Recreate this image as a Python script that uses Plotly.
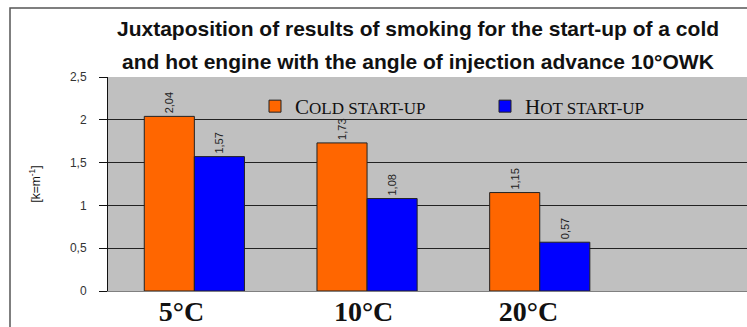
import plotly.graph_objects as go

categories = ["5°C", "10°C", "20°C"]
cold_values = [2.04, 1.73, 1.15]
hot_values = [1.57, 1.08, 0.57]
series_names = ["C<span style='font-size:17px'>OLD START-UP</span>",
                "H<span style='font-size:17px'>OT START-UP</span>"]
title_lines = ["Juxtaposition of results of smoking for the start-up of a cold",
               "and hot engine with the angle of injection advance 10°OWK"]
y_title = "[k=m<sup>-1</sup>]"

# styling: small horizontal nudges of category labels (in category units)
label_shift = [-0.075, -0.02, -0.065]

W, H = 747, 327
ML, MR, MT, MB = 108, 0, 77, 36
pw = W - ML - MR
ph = H - MT - MB

def px_x(p):
    return (p - ML) / pw

def px_y(p):
    return (H - MB - p) / ph

xpos = list(range(len(categories)))

fig = go.Figure()
fig.add_trace(go.Bar(
    x=xpos, y=cold_values, name=series_names[0],
    marker=dict(color="#FF6600", line=dict(color="#222222", width=1)),
    texttemplate="%{y:.2f}", textposition="outside", textangle=-90,
    textfont=dict(family="Liberation Sans, Arial", size=11, color="#222222"),
    cliponaxis=False, hoverinfo="skip",
))
fig.add_trace(go.Bar(
    x=xpos, y=hot_values, name=series_names[1],
    marker=dict(color="#0000FF", line=dict(color="#222222", width=1)),
    texttemplate="%{y:.2f}", textposition="outside", textangle=-90,
    textfont=dict(family="Liberation Sans, Arial", size=11, color="#222222"),
    cliponaxis=False, hoverinfo="skip",
))

fig.update_layout(
    template="none",
    width=W, height=H,
    margin=dict(l=ML, r=MR, t=MT, b=MB, pad=0, autoexpand=False),
    paper_bgcolor="white",
    plot_bgcolor="#C0C0C0",
    separators=", ",
    barmode="group",
    bargap=0.42,
    bargroupgap=0,
    showlegend=True,
    legend=dict(
        orientation="h", x=px_x(255), y=px_y(86), xanchor="left", yanchor="top",
        bgcolor="rgba(0,0,0,0)", entrywidth=185, entrywidthmode="pixels",
        font=dict(family="Liberation Serif, Times New Roman", size=21, color="#111111"),
        traceorder="normal", borderwidth=0,
    ),
    xaxis=dict(
        range=[-0.5, 3.2], automargin=False,
        tickmode="array",
        tickvals=[p + s for p, s in zip(xpos, label_shift)],
        ticktext=categories,
        showline=True, linecolor="#808080", linewidth=1,
        ticks="", showgrid=False, zeroline=False,
        tickfont=dict(family="Liberation Serif, Times New Roman", size=28, color="#111111", weight="bold"),
        ticklabelstandoff=-5,
    ),
    yaxis=dict(
        range=[0, 2.5], dtick=0.5, automargin=False,
        showline=True, linecolor="#111111", linewidth=1,
        ticks="outside", ticklen=8, tickcolor="#111111",
        showgrid=True, gridcolor="#222222", gridwidth=1,
        zeroline=False,
        tickfont=dict(family="Liberation Sans, Arial", size=12, color="#333333"),
        ticklabelstandoff=10,
        title=dict(text=y_title, font=dict(family="Liberation Sans, Arial", size=12, color="#111111"), standoff=26),
    ),
    shapes=[
        dict(type="rect", xref="paper", yref="paper",
             x0=px_x(10), x1=px_x(760), y0=px_y(340), y1=px_y(8),
             line=dict(color="#555555", width=1.5), fillcolor="rgba(0,0,0,0)", layer="below"),
    ],
    annotations=[
        dict(text="<b>" + title_lines[0] + "</b>", xref="paper", yref="paper",
             x=px_x(418), y=px_y(29), xanchor="center", yanchor="middle", showarrow=False,
             font=dict(family="Liberation Sans, Arial", size=21, color="#111111")),
        dict(text="<b>" + title_lines[1] + "</b>", xref="paper", yref="paper",
             x=px_x(418), y=px_y(61), xanchor="center", yanchor="middle", showarrow=False,
             font=dict(family="Liberation Sans, Arial", size=21, color="#111111")),
    ],
)

fig.write_html("out.html", config={"displayModeBar": False},
               post_script="document.body.style.margin='0';document.body.style.overflow='hidden';")
